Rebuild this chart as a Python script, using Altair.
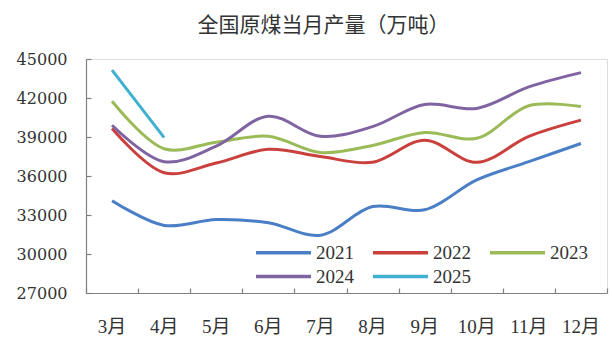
import altair as alt
import pandas as pd

months = ["3月", "4月", "5月", "6月", "7月", "8月", "9月", "10月", "11月", "12月"]
years = ["2021", "2022", "2023", "2024", "2025"]
v2021 = [34100, 32200, 32650, 32400, 31450, 33650, 33400, 35700, 37100, 38500]
v2022 = [39650, 36250, 37000, 38050, 37500, 37050, 38750, 37050, 39050, 40300]
v2023 = [41750, 38100, 38600, 39050, 37800, 38350, 39350, 38900, 41400, 41350]
v2024 = [39900, 37100, 38300, 40600, 39050, 39800, 41500, 41200, 42850, 43950]
v2025 = [44150, 38950]
colors = ["#4A7EC6", "#C9403D", "#9BBB59", "#8064A2", "#3FB0D0"]
y_ticks = [27000, 30000, 33000, 36000, 39000, 42000, 45000]

rows = []
for yr, vals in zip(years, [v2021, v2022, v2023, v2024, v2025]):
    for m, v in zip(months, vals):
        rows.append({"month": m, "year": yr, "value": v})
df = pd.DataFrame(rows)

xscale = alt.Scale(type="band", domain=months, paddingInner=0, paddingOuter=0)
yscale = alt.Scale(domain=[27000, 45000], nice=False, zero=False)
cscale = alt.Scale(domain=years, range=colors)

base = alt.Chart(df)

lines = base.mark_line(strokeWidth=3, interpolate="catmull-rom").encode(
    x=alt.X("month:N", sort=months, scale=xscale,
            axis=alt.Axis(title=None, orient="bottom", labelAngle=0, ticks=False,
                          domainColor="#808080", domainWidth=1.2,
                          labelFont="Liberation Serif, Noto Sans CJK SC",
                          labelFontSize=19, labelColor="#333333", labelPadding=24)),
    y=alt.Y("value:Q", scale=yscale,
            axis=alt.Axis(title=None, orient="left", values=y_ticks, format="d",
                          ticks=False, grid=False,
                          domainColor="#808080", domainWidth=1.2,
                          labelFont="DejaVu Serif", labelFontSize=16,
                          labelColor="#333333", labelPadding=19)),
    color=alt.Color("year:N", scale=cscale,
                    legend=alt.Legend(title=None, orient="none", legendX=188, legendY=184,
                                      direction="horizontal",
                                      columns=3, symbolType="M-5,0H5", symbolSize=121,
                                      symbolStrokeWidth=3.5, labelFont="Liberation Serif",
                                      labelFontSize=19, labelColor="#333333",
                                      labelOffset=23, columnPadding=12, rowPadding=4,
                                      padding=0)),
    detail="year:N",
)

ticks = base.mark_line(opacity=0).encode(
    x=alt.X("month:N", sort=months, scale=xscale,
            axis=alt.Axis(title=None, orient="top", offset=-234, labels=False, domain=False,
                          ticks=True, tickSize=5, tickBand="extent", tickColor="#808080",
                          tickWidth=1.2)),
    y=alt.Y("value:Q", scale=yscale,
            axis=alt.Axis(title=None, orient="right", offset=-521, labels=False, domain=False,
                          values=y_ticks, ticks=True, tickSize=5, grid=False,
                          tickColor="#808080", tickWidth=1.2)),
    detail="year:N",
)

chart = alt.layer(lines, ticks).resolve_axis(x="independent", y="independent").properties(
    width=521,
    height=234,
    autosize=alt.AutoSizeParams(type="none"),
    padding={"left": 86, "top": 59, "right": 5, "bottom": 52},
    title=alt.TitleParams("全国原煤当月产量（万吨）", font="Noto Sans CJK SC", fontSize=21,
                          fontWeight="normal", color="#333333", anchor="middle",
                          dx=-23, offset=15),
).configure_view(stroke=None).configure(background="white")

chart.save("out.html", embed_options={"renderer": "svg", "actions": False})
